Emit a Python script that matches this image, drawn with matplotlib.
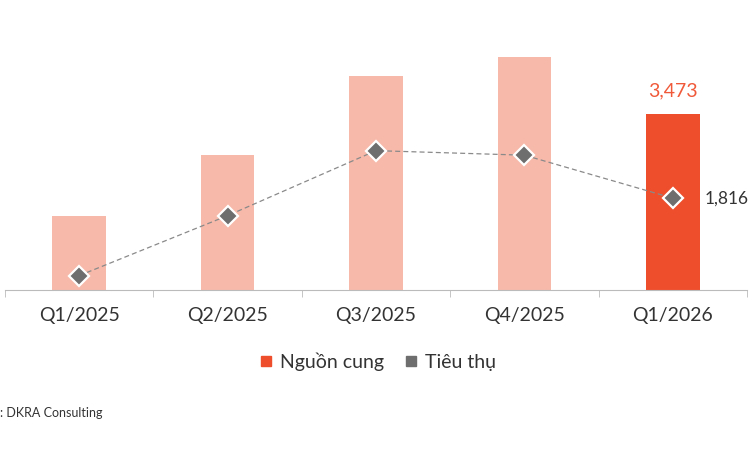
import matplotlib.pyplot as plt
import numpy as np
from matplotlib.lines import Line2D

quarters = ["Q1/2025", "Q2/2025", "Q3/2025", "Q4/2025", "Q1/2026"]
supply = [1460, 2675, 4240, 4600, 3473]
consumption = [285, 1470, 2755, 2665, 1816]

light = "#F7B9AA"
strong = "#EE4E2B"
grey = "#6E6E6E"

plt.rcParams["font.family"] = ["Lato", "DejaVu Sans"]

fig = plt.figure(figsize=(7.5, 4.5), dpi=100)
ax = fig.add_axes([5 / 750, 1 - 290 / 450, 742 / 750, 290 / 450])

x = np.arange(len(quarters))
colors = [light] * (len(quarters) - 1) + [strong]
ax.bar(x, supply, width=0.36, color=colors, zorder=1)
ax.plot(x, consumption, color="#8A8A8A", lw=0.9, ls=(0, (4, 2.5)), zorder=2)
ax.plot(x, consumption, ls="none", marker="D", ms=10, mfc=grey,
        mec="white", mew=1.6, zorder=3)

ax.text(x[-1], supply[-1] + 460, f"{supply[-1]:,}", ha="center", va="center",
        color="#F05A3A", fontsize=14)
ax.text(x[-1] + 0.215, consumption[-1], f"{consumption[-1]:,}", ha="left",
        va="center", color="#333333", fontsize=12.5)

ax.set_xlim(-0.5, 4.5)
ax.set_ylim(0, 5733)
ax.set_xticks(x)
ax.set_xticklabels(quarters, fontsize=14, color="#333333")
ax.set_xticks(np.arange(-0.5, 5, 1), minor=True)
ax.tick_params(axis="x", which="major", length=0, pad=12)
ax.tick_params(axis="x", which="minor", length=5, color="#BBBBBB")
ax.set_yticks([])
for s in ["top", "right", "left"]:
    ax.spines[s].set_visible(False)
ax.spines["bottom"].set_color("#BBBBBB")

handles = [
    Line2D([], [], ls="none", marker="s", ms=7, color=strong, label="Nguồn cung"),
    Line2D([], [], ls="none", marker="s", ms=7, color=grey, label="Tiêu thụ"),
]
fig.legend(handles=handles, loc="center", bbox_to_anchor=(0.5, 1 - 362 / 450),
           ncol=2, frameon=False, fontsize=14, handletextpad=0.1,
           handlelength=1.2, columnspacing=0.8, labelcolor="#333333")

fig.text(0.0, 1 - 413 / 450, ": DKRA Consulting", ha="left", va="center",
         fontsize=9, color="#333333")

fig.savefig("out.png", dpi=100)
